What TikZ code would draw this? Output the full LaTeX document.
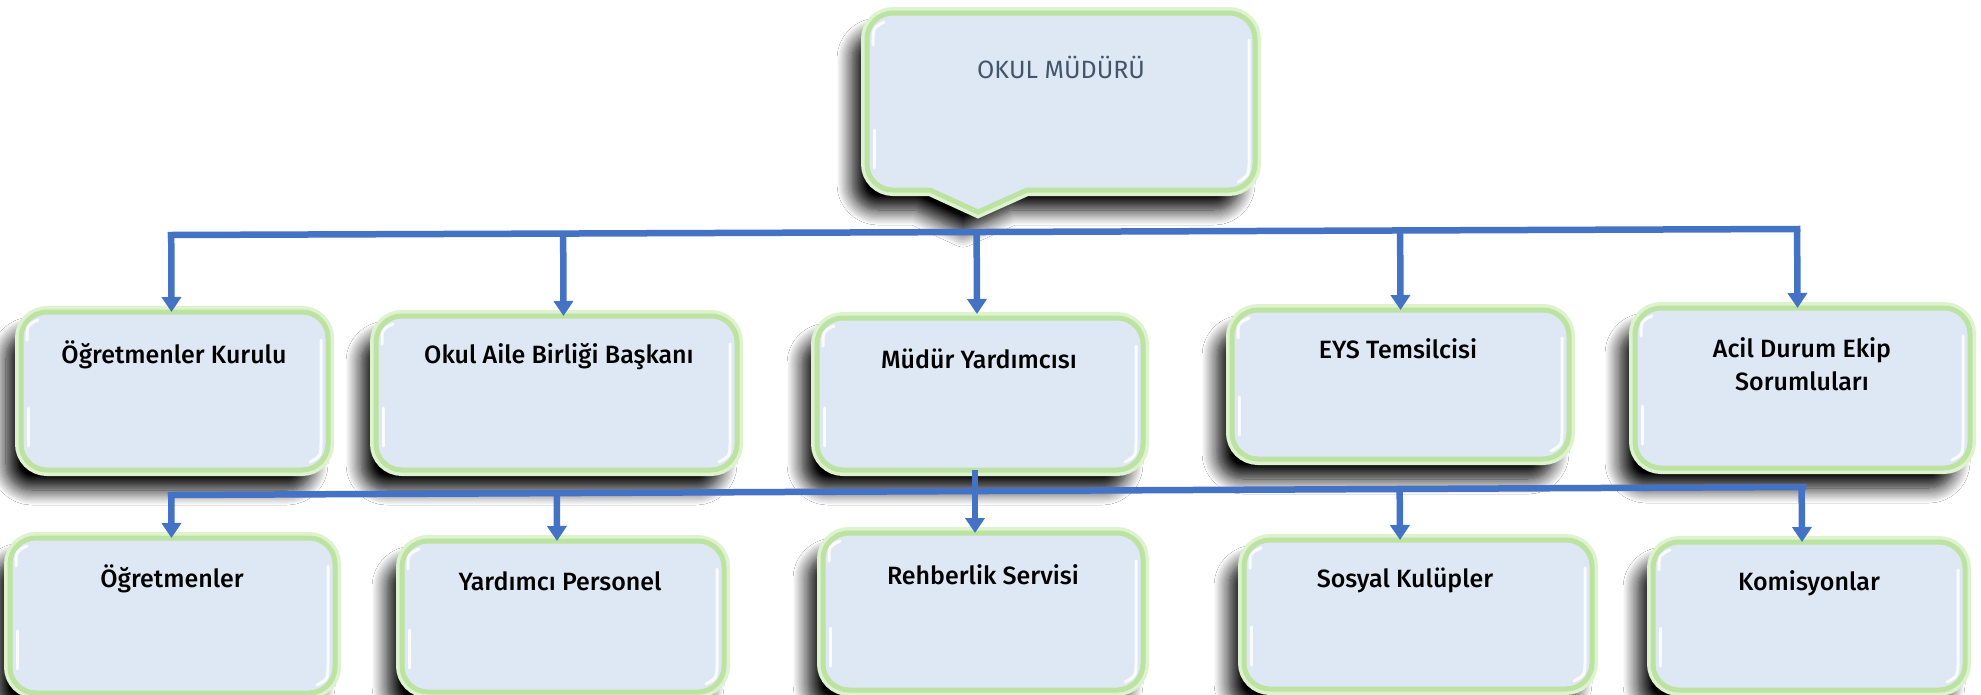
\documentclass[tikz,border=0pt]{standalone}
\usepackage{fontspec}
\setmainfont{Fira Sans}
\newfontfamily\boxfont{Fira Sans Medium}
\usetikzlibrary{arrows.meta,calc,shadows.blur}
\definecolor{boxfill}{HTML}{DEE8F4}
\definecolor{glowout}{HTML}{BCE3A1}
\definecolor{glowfaint}{HTML}{DDF3CD}
\definecolor{conn}{HTML}{4472C4}
\definecolor{toptext}{HTML}{44546A}
\newcommand\boxgloss[1]{%
  \draw[hl] ($(#1.north west)+(6,28)$) .. controls ($(#1.north west)+(6,13)$) .. ($(#1.north west)+(17,8)$);
  \draw[hl] ($(#1.south west)+(7,-62)$) -- ($(#1.south west)+(7,-24)$);
  \draw[hl] ($(#1.north east)+(-7,28)$) -- ($(#1.south east)+(-7,-30)$) .. controls ($(#1.south east)+(-7,-14)$) .. ($(#1.south east)+(-18,-8)$);
}
\begin{document}
\begin{tikzpicture}[x=1pt,y=-1pt,
  panel/.style={fill=boxfill, draw=glowout, line width=5pt,
    preaction={blur shadow={shadow xshift=-15pt, shadow yshift=-20pt, shadow blur radius=15pt, shadow blur steps=14, shadow opacity=100}},
    preaction={draw=glowfaint, line width=12pt}},
  box/.style={panel, rectangle, rounded corners=26pt, inner sep=0pt, outer sep=0pt},
  lbl/.style={font=\boxfont\fontsize{25}{33}\selectfont, text=black, align=center, inner sep=0pt},
  toplbl/.style={font=\fontsize{25}{30}\selectfont, text=toptext, inner sep=0pt},
  wire/.style={draw=conn, line width=6.5pt},
  arr/.style={wire, -{Triangle[width=19pt,length=15pt]}},
  hl/.style={draw=white, line width=3pt, line cap=round, opacity=.85}]
\useasboundingbox (0,0) rectangle (1981,694);
\fill[white] (0,0) rectangle (1981,694);

% top box with pointer
\path[panel] (978,212) -- (1027,190) [rounded corners=26pt] -- (1255,190) -- (1255,13) -- (867,13) -- (867,190) [sharp corners] -- (930,190) -- cycle;
\draw[hl] (873,45) .. controls (873,28) .. (884,22);
\draw[hl] (874,130) -- (874,168);
\draw[hl] (1249,40) -- (1249,160) .. controls (1249,175) .. (1238,182);
\node[toplbl] (head) at (1061,67) {OKUL MÜDÜRÜ};
\coordinate (tip) at (978,212);

% first row
\node[box, minimum width=307pt, minimum height=158pt] (b1) at (174.5,391) {};
\node[box, minimum width=361pt, minimum height=154pt] (b2) at (556.5,393) {};
\node[box, minimum width=326pt, minimum height=152pt] (b3) at (980,394) {};
\node[box, minimum width=337pt, minimum height=149pt] (b4) at (1400.5,384.5) {};
\node[box, minimum width=335pt, minimum height=160pt] (b5) at (1802.5,388) {};
\foreach \n in {b1,b2,b3,b4,b5} {\boxgloss{\n}}

% second row
\node[box, minimum width=325pt, minimum height=155pt] (c1) at (172.5,615.5) {};
\node[box, minimum width=322pt, minimum height=151pt] (c2) at (563,616.5) {};
\node[box, minimum width=320pt, minimum height=157pt] (c3) at (983,611.5) {};
\node[box, minimum width=348pt, minimum height=149pt] (c4) at (1418,614.5) {};
\node[box, minimum width=312pt, minimum height=148pt] (c5) at (1809,616) {};
\foreach \n in {c1,c2,c3,c4,c5} {\boxgloss{\n}}

% labels
\node[lbl] (t1) at (174,355) {Öğretmenler Kurulu};
\node[lbl] (t2) at (559,357) {Okul Aile Birliği Başkanı};
\node[lbl] (t3) at (979,359) {Müdür Yardımcısı};
\node[lbl] (t4) at (1398,349) {EYS Temsilcisi};
\node[lbl] (t5) at (1802,364) {Acil Durum Ekip\\Sorumluları};
\node[lbl] (s1) at (172,579) {Öğretmenler};
\node[lbl] (s2) at (560,581) {Yardımcı Personel};
\node[lbl] (s3) at (983,575) {Rehberlik Servisi};
\node[lbl] (s4) at (1405,580) {Sosyal Kulüpler};
\node[lbl] (s5) at (1809,583) {Komisyonlar};

% upper bus
\coordinate (ba) at (171,235);
\coordinate (bb) at (1797,229);
\draw[wire, line cap=rect] (ba) -- (bb);
\draw[arr] ($(ba)!([xshift=-3pt]b1.north)!(bb)$) -- ([xshift=-3pt]b1.north);
\draw[arr] ($(ba)!([xshift=7pt]b2.north)!(bb)$) -- ([xshift=7pt]b2.north);
\draw[arr] ($(ba)!([xshift=-3pt]b3.north)!(bb)$) -- ([xshift=-3pt,yshift=4pt]b3.north);
\draw[arr] ($(ba)!(b4.north)!(bb)$) -- (b4.north);
\draw[arr] ($(ba)!([xshift=-5pt]b5.north)!(bb)$) -- ([xshift=-5pt]b5.north);

% lower bus
\coordinate (ca) at (171,495);
\coordinate (cb) at (1803,487);
\draw[wire, line cap=rect] (ca) -- (cb);
\draw[arr] ([xshift=-5pt]b3.south) -- ([xshift=-5pt]b3.south |- c3.north);
\draw[arr] ($(ca)!([xshift=-1pt]c1.north)!(cb)$) -- ([xshift=-1pt]c1.north);
\draw[arr] ($(ca)!([xshift=-6pt]c2.north)!(cb)$) -- ([xshift=-6pt]c2.north);
\draw[arr] ($(ca)!([xshift=-18pt]c4.north)!(cb)$) -- ([xshift=-18pt]c4.north);
\draw[arr] ($(ca)!([xshift=-7pt]c5.north)!(cb)$) -- ([xshift=-7pt]c5.north);
\end{tikzpicture}
\end{document}
